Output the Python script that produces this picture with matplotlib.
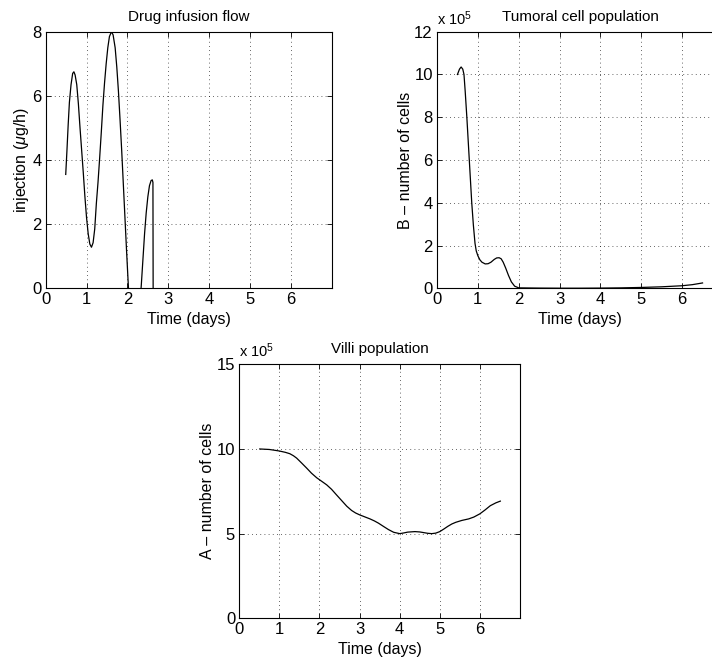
import matplotlib
matplotlib.use("Agg")
import matplotlib.pyplot as plt

plt.rcParams['font.family'] = ['Liberation Sans', 'DejaVu Sans']
plt.rcParams['mathtext.fontset'] = 'custom'
plt.rcParams['mathtext.rm'] = 'Liberation Sans'
plt.rcParams['mathtext.it'] = 'Liberation Sans:italic'
plt.rcParams['font.size'] = 11

# drug infusion flow (ug/h), negative part is clipped by the axis like in the original
drug_t = [0.49, 0.52, 0.55, 0.58, 0.62, 0.66, 0.69, 0.72, 0.76, 0.80, 0.84, 0.88,
          0.92, 0.96, 1.00, 1.04, 1.08, 1.12, 1.16, 1.20, 1.24, 1.28, 1.32, 1.36,
          1.40, 1.44, 1.48, 1.52, 1.56, 1.61, 1.65, 1.70, 1.74, 1.78, 1.82, 1.86,
          1.90, 1.94, 1.98, 2.02, 2.06, 2.12, 2.18, 2.24, 2.30, 2.34, 2.38, 2.42,
          2.46, 2.50, 2.54, 2.58, 2.61, 2.625, 2.63]
drug_q = [3.55, 4.3, 5.1, 5.8, 6.35, 6.7, 6.75, 6.65, 6.35, 5.75, 5.0, 4.3,
          3.6, 2.85, 2.2, 1.7, 1.38, 1.28, 1.42, 1.85, 2.65, 3.3, 4.05, 4.85,
          5.7, 6.4, 7.0, 7.5, 7.85, 8.0, 7.9, 7.5, 6.9, 6.15, 5.25, 4.3,
          3.25, 2.2, 1.15, 0.15, -0.8, -2.0, -2.4, -1.8, -0.6, 0.1, 0.9, 1.7,
          2.35, 2.85, 3.2, 3.36, 3.38, 3.3, 0.0]

# tumoral cells (x 10^5)
tumor_t = [0.50, 0.55, 0.59, 0.63, 0.66, 0.69, 0.73, 0.79, 0.85, 0.89, 0.93, 0.96,
           1.00, 1.05, 1.10, 1.18, 1.25, 1.32, 1.40, 1.46, 1.52, 1.57, 1.62, 1.68,
           1.75, 1.82, 1.90, 2.00, 2.50, 3.00, 3.50, 4.00, 4.50, 5.00, 5.50, 6.00,
           6.25, 6.50]
tumor_b = [10.0, 10.25, 10.35, 10.25, 10.0, 9.2, 8.0, 6.0, 4.0, 2.95, 2.1, 1.75,
           1.52, 1.33, 1.22, 1.14, 1.15, 1.22, 1.35, 1.42, 1.43, 1.38, 1.22, 0.95,
           0.6, 0.3, 0.1, 0.02, 0.01, 0.005, 0.005, 0.01, 0.02, 0.04, 0.07, 0.12,
           0.17, 0.25]

# villi (x 10^5)
villi_t = [0.51, 0.75, 1.0, 1.15, 1.26, 1.35, 1.43, 1.55, 1.68, 1.8, 1.93, 2.05,
           2.18, 2.3, 2.42, 2.55, 2.68, 2.8, 2.9, 3.0, 3.13, 3.26, 3.37, 3.47,
           3.6, 3.72, 3.85, 4.0, 4.1, 4.2, 4.38, 4.5, 4.6, 4.7, 4.8, 4.9,
           5.0, 5.1, 5.2, 5.3, 5.4, 5.55, 5.72, 5.85, 6.0, 6.13, 6.26, 6.4, 6.51]
villi_a = [10.0, 9.97, 9.88, 9.8, 9.72, 9.6, 9.46, 9.18, 8.87, 8.57, 8.3, 8.1,
           7.88, 7.62, 7.3, 6.96, 6.62, 6.37, 6.22, 6.11, 5.99, 5.87, 5.75, 5.62,
           5.42, 5.24, 5.08, 5.0, 5.04, 5.09, 5.12, 5.1, 5.06, 5.02, 5.0, 5.03,
           5.12, 5.27, 5.43, 5.57, 5.67, 5.78, 5.87, 5.98, 6.17, 6.4, 6.65, 6.82, 6.92]


def matlab_axes(ax, ylim, yticks):
    ax.set_xlim(0, 7)
    ax.set_xticks(range(0, 7))
    ax.set_ylim(*ylim)
    ax.set_yticks(yticks)
    ax.grid(True, color='k', linestyle=(0, (1, 4)), linewidth=0.6, alpha=0.8)
    ax.tick_params(direction='in', top=True, right=True, length=3.5, width=0.6,
                   labelsize=12, pad=3)
    for s in ax.spines.values():
        s.set_linewidth(0.8)
    ax.set_xlabel('Time (days)', fontsize=11.5, labelpad=3.5)


fig = plt.figure(figsize=(7.12, 6.62), dpi=100)

ax1 = fig.add_axes([0.0642, 0.5645, 0.4016, 0.3876])
ax1.plot(drug_t, drug_q, color='k', lw=0.9)
matlab_axes(ax1, (0, 8), [0, 2, 4, 6, 8])
ax1.set_ylabel(r'injection ($\mu$g/h)', fontsize=11.5, labelpad=1)
ax1.set_title('Drug infusion flow', fontsize=11, pad=8)

ax2 = fig.add_axes([0.6138, 0.5645, 0.4016, 0.3876])
ax2.plot(tumor_t, tumor_b, color='k', lw=0.9)
matlab_axes(ax2, (0, 12), [0, 2, 4, 6, 8, 10, 12])
ax2.set_ylabel('B – number of cells', fontsize=11.5, labelpad=1)
ax2.set_title('Tumoral cell population', fontsize=11, pad=8)
ax2.text(0.0, 1.015, r'x 10$^5$', transform=ax2.transAxes, fontsize=10.5,
         ha='left', va='bottom')

ax3 = fig.add_axes([0.3361, 0.066, 0.3942, 0.3837])
ax3.plot(villi_t, villi_a, color='k', lw=0.9)
matlab_axes(ax3, (0, 15), [0, 5, 10, 15])
ax3.set_ylabel('A – number of cells', fontsize=11.5, labelpad=1)
ax3.set_title('Villi population', fontsize=11, pad=8)
ax3.text(0.0, 1.015, r'x 10$^5$', transform=ax3.transAxes, fontsize=10.5,
         ha='left', va='bottom')

fig.savefig('out.png', dpi=100)
